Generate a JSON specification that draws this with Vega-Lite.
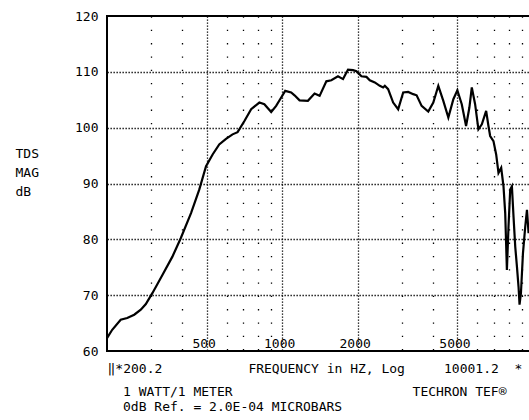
{
  "$schema": "https://vega.github.io/schema/vega-lite/v6.json",
  "autosize": "none",
  "width": 426,
  "height": 335,
  "padding": {"left": 107, "top": 16, "right": 0, "bottom": 69},
  "background": "white",
  "config": {
    "font": "DejaVu Sans Mono",
    "view": {"stroke": "black", "strokeWidth": 2},
    "axis": {"labelFont": "DejaVu Sans Mono", "titleFont": "DejaVu Sans Mono", "labelColor": "black", "titleColor": "black", "labelFontSize": 13, "titleFontSize": 13, "titleFontWeight": "normal"}
  },
  "title": {
    "text": ["1 WATT/1 METER\u00a0\u00a0\u00a0\u00a0\u00a0\u00a0\u00a0\u00a0\u00a0\u00a0\u00a0\u00a0\u00a0\u00a0\u00a0\u00a0\u00a0\u00a0\u00a0\u00a0\u00a0\u00a0\u00a0TECHRON TEF®", "0dB Ref. = 2.0E-04 MICROBARS"],
    "orient": "bottom",
    "anchor": "start",
    "frame": "group",
    "dx": 16,
    "offset": 11,
    "lineHeight": 15,
    "font": "DejaVu Sans Mono",
    "fontSize": 13,
    "fontWeight": "normal",
    "color": "black"
  },
  "data": {
    "values": [
      {"f": 200.2, "db": 62.3}, {"f": 210, "db": 63.8}, {"f": 227, "db": 65.6}, {"f": 241, "db": 65.9},
      {"f": 257, "db": 66.5}, {"f": 273, "db": 67.4}, {"f": 286, "db": 68.4}, {"f": 304, "db": 70.4},
      {"f": 333, "db": 73.6}, {"f": 365, "db": 76.9}, {"f": 394, "db": 80.2}, {"f": 433, "db": 84.7},
      {"f": 467, "db": 88.9}, {"f": 497, "db": 93.1}, {"f": 528, "db": 95.2}, {"f": 561, "db": 97.0},
      {"f": 597, "db": 98.0}, {"f": 634, "db": 98.8}, {"f": 664, "db": 99.2}, {"f": 707, "db": 101.2},
      {"f": 752, "db": 103.3}, {"f": 811, "db": 104.5}, {"f": 849, "db": 104.2}, {"f": 904, "db": 102.8},
      {"f": 946, "db": 103.9}, {"f": 991, "db": 105.4}, {"f": 1028, "db": 106.6}, {"f": 1086, "db": 106.3},
      {"f": 1120, "db": 105.8}, {"f": 1173, "db": 104.9}, {"f": 1266, "db": 104.8}, {"f": 1346, "db": 106.1},
      {"f": 1410, "db": 105.7}, {"f": 1500, "db": 108.3}, {"f": 1570, "db": 108.5}, {"f": 1669, "db": 109.2},
      {"f": 1748, "db": 108.7}, {"f": 1830, "db": 110.4}, {"f": 1916, "db": 110.3}, {"f": 1977, "db": 110.1},
      {"f": 2070, "db": 109.2}, {"f": 2168, "db": 109.1}, {"f": 2235, "db": 108.5}, {"f": 2340, "db": 108.1},
      {"f": 2450, "db": 107.5}, {"f": 2526, "db": 107.2}, {"f": 2566, "db": 107.5}, {"f": 2645, "db": 106.9},
      {"f": 2770, "db": 104.5}, {"f": 2900, "db": 103.3}, {"f": 3037, "db": 106.3}, {"f": 3180, "db": 106.4},
      {"f": 3330, "db": 106.0}, {"f": 3436, "db": 105.8}, {"f": 3597, "db": 103.9}, {"f": 3823, "db": 102.9},
      {"f": 4004, "db": 104.5}, {"f": 4193, "db": 107.5}, {"f": 4390, "db": 104.8}, {"f": 4597, "db": 101.8},
      {"f": 4814, "db": 105.1}, {"f": 4994, "db": 106.7}, {"f": 5200, "db": 104.2}, {"f": 5410, "db": 100.3},
      {"f": 5577, "db": 103.6}, {"f": 5702, "db": 107.2}, {"f": 5878, "db": 104.2}, {"f": 6059, "db": 99.7},
      {"f": 6252, "db": 100.6}, {"f": 6505, "db": 103.0}, {"f": 6644, "db": 100.3}, {"f": 6749, "db": 98.5},
      {"f": 6957, "db": 97.6}, {"f": 7132, "db": 95.2}, {"f": 7285, "db": 91.9}, {"f": 7469, "db": 92.8},
      {"f": 7628, "db": 89.5}, {"f": 7749, "db": 84.7}, {"f": 7870, "db": 74.5}, {"f": 7987, "db": 82.3},
      {"f": 8113, "db": 88.9}, {"f": 8241, "db": 89.5}, {"f": 8363, "db": 84.1}, {"f": 8496, "db": 78.7},
      {"f": 8630, "db": 75.1}, {"f": 8758, "db": 71.5}, {"f": 8839, "db": 68.3}, {"f": 8954, "db": 70.4},
      {"f": 9120, "db": 77.5}, {"f": 9315, "db": 82.3}, {"f": 9462, "db": 85.3}, {"f": 9603, "db": 81.1}
    ]
  },
  "mark": {"type": "line", "color": "black", "strokeWidth": 2.2, "clip": true},
  "encoding": {
    "x": {
      "field": "f",
      "type": "quantitative",
      "scale": {"type": "log", "domain": [200.2, 10001.2]},
      "axis": {
        "values": [300, 400, 500, 600, 700, 800, 900, 1000, 2000, 3000, 4000, 5000, 6000, 7000, 8000, 9000],
        "format": "d",
        "labelExpr": "indexof([500,1000,2000,5000], datum.value) >= 0 ? datum.label : ''",
        "labelOverlap": false,
        "labelFlush": false,
        "labelPadding": -8,
        "labelBaseline": "middle",
        "labelOffset": -3,
        "ticks": false,
        "domain": false,
        "grid": true,
        "gridColor": "black",
        "gridWidth": 1.3,
        "gridDash": {"condition": {"test": "indexof([500,1000,2000,5000], datum.value) >= 0", "value": [1.3, 1.7]}, "value": [1.3, 12]},
        "title": "‖*200.2\u00a0\u00a0\u00a0\u00a0\u00a0\u00a0\u00a0\u00a0\u00a0\u00a0\u00a0FREQUENCY in HZ, Log\u00a0\u00a0\u00a0\u00a0\u00a010001.2\u00a0\u00a0*",
        "titleAnchor": "start",
        "titleAlign": "left",
        "titleX": 0,
        "titleY": 21,
        "titleBaseline": "alphabetic"
      }
    },
    "y": {
      "field": "db",
      "type": "quantitative",
      "scale": {"domain": [60, 120], "nice": false, "zero": false},
      "axis": {
        "values": [60, 70, 80, 90, 100, 110, 120],
        "ticks": false,
        "domain": false,
        "labelPadding": 9,
        "grid": true,
        "gridColor": "black",
        "gridWidth": 1.3,
        "gridDash": [1.3, 1.7],
        "gridOpacity": {"condition": {"test": "datum.value > 60 && datum.value < 120", "value": 1}, "value": 0},
        "title": ["TDS", "MAG", "dB"],
        "titleAngle": 0,
        "titleAlign": "left",
        "titleBaseline": "alphabetic",
        "titleX": -92,
        "titleY": 141,
        "titleLineHeight": 19
      }
    }
  }
}
